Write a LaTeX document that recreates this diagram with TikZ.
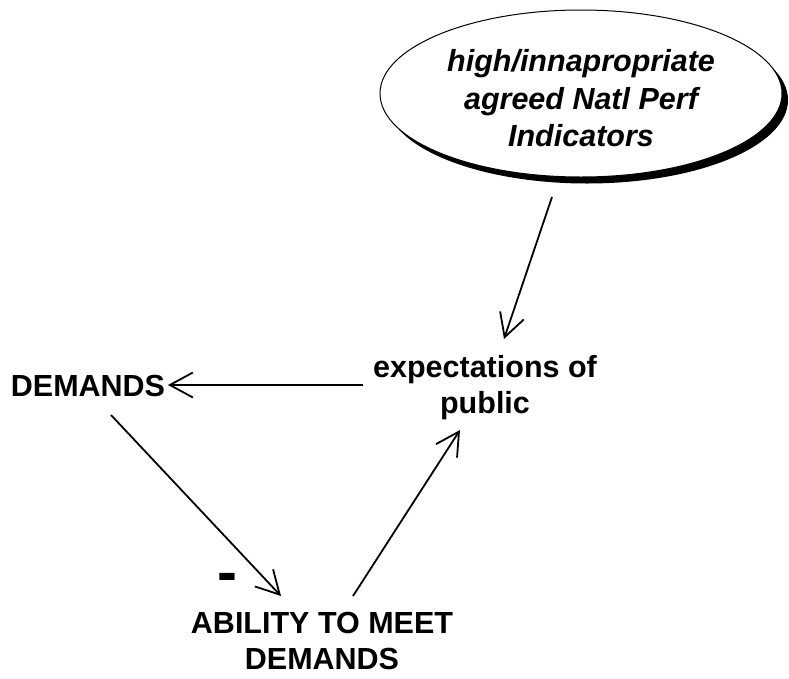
\documentclass[tikz,border=0pt]{standalone}
\usepackage{fontspec}
\setmainfont{Liberation Sans}
\usetikzlibrary{arrows.meta,shapes.geometric}
\begin{document}
\begin{tikzpicture}[x=1pt,y=-1pt,
  lbl/.style={inner sep=0pt,align=center,font=\bfseries\fontsize{30.5}{36}\selectfont},
  arr/.style={line width=1.8pt,-{Straight Barb[length=23pt,width=25pt,line width=1.8pt]}},
  ellbox/.style={ellipse,minimum width=402pt,minimum height=167pt,inner sep=0pt}]
\useasboundingbox (0,0) rectangle (789,678);
% shadow and ellipse
\node[ellbox,fill=black] (ellshadow) at (587,100) {};
\node[ellbox,fill=white,draw=black,line width=1pt] (ell) at (581,93.5) {};
\node[inner sep=0pt,align=center,font=\bfseries\itshape\fontsize{30.5}{37.5}\selectfont] (elltext) at (581,98.5)
  {high/innapropriate\\agreed Natl Perf\\Indicators};
\node[lbl] (exp) at (485,388) {expectations of\\public};
\node[lbl] (dem) at (88,386) {DEMANDS};
\node[lbl] (abl) at (322,641) {ABILITY TO MEET\\DEMANDS};
\node[inner sep=0pt,anchor=base,font=\bfseries\fontsize{60}{60}\selectfont] (minus) at (227,592) {-};
% connectors
\draw[arr] ([shift={(-29,103.5)}]ell.center) -- ([shift={(19,-49)}]exp.center);
\draw[arr] ([shift={(-122,-3)}]exp.center) -- ([shift={(80,-1)}]dem.center);
\draw[arr] ([shift={(23,29)}]dem.center) -- ([shift={(-41,-45)}]abl.center);
\draw[arr] ([shift={(31,-45)}]abl.center) -- ([shift={(-25,42)}]exp.center);
\end{tikzpicture}
\end{document}
